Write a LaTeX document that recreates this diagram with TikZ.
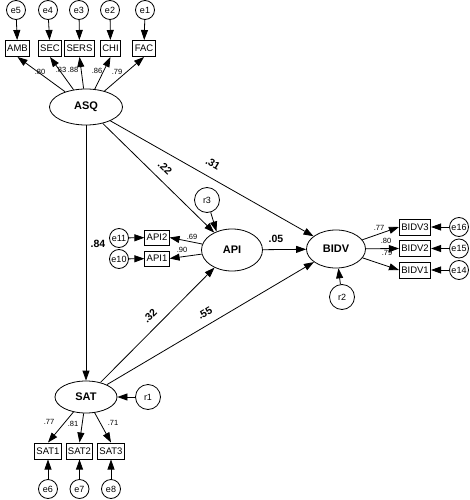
\documentclass[tikz,border=0pt]{standalone}
\usepackage{fontspec}
\setmainfont{Liberation Sans}
\usetikzlibrary{arrows.meta,shapes.geometric,positioning}

\tikzset{
  latent/.style={draw, ellipse, inner sep=0pt, line width=0.8pt, font=\fontsize{11}{12}\selectfont\bfseries},
  obs/.style={draw, line width=1pt, inner xsep=1.8pt, minimum height=16pt, font=\fontsize{9.5}{10}\selectfont},
  err/.style={draw, circle, line width=0.8pt, minimum size=19pt, inner sep=0pt, font=\fontsize{9}{10}\selectfont},
  res/.style={draw, circle, line width=0.8pt, minimum size=25pt, inner sep=0pt, font=\fontsize{9}{10}\selectfont},
  load/.style={inner sep=0pt, font=\fontsize{7.5}{8}\selectfont},
  coef/.style={inner sep=1pt, font=\fontsize{10.5}{12}\selectfont\bfseries},
  arr/.style={-{Triangle[length=10pt,width=7pt]}, line width=0.8pt}
}

\begin{document}
\begin{tikzpicture}[x=1pt,y=-1pt]
\useasboundingbox (0,0) rectangle (469,500);

\node[latent, minimum width=73pt, minimum height=36pt] (asq) at (86,107) {ASQ};
\node[latent, minimum width=62pt, minimum height=32pt] (sat) at (86,397) {SAT};
\node[latent, minimum width=61pt, minimum height=42pt] (api) at (232,250) {API};
\node[latent, minimum width=59pt, minimum height=38pt] (bidv) at (336,249) {BIDV};

\node[obs] (amb) at (17.5,48.5) {AMB};
\node[obs] (sec) at (50,48.5) {SEC};
\node[obs] (sers) at (79.5,48.5) {SERS};
\node[obs] (chi) at (110.5,48.5) {CHI};
\node[obs] (fac) at (144,48.5) {FAC};

\node[err] (e5) at (16,10) {e5};
\node[err] (e4) at (48,10) {e4};
\node[err] (e3) at (79,10) {e3};
\node[err] (e2) at (110,10) {e2};
\node[err] (e1) at (145,10) {e1};

\node[obs] (sat1) at (48,451) {SAT1};
\node[obs] (sat2) at (79.5,451) {SAT2};
\node[obs] (sat3) at (111,451) {SAT3};

\node[err] (e6) at (48,489) {e6};
\node[err] (e7) at (79.5,489) {e7};
\node[err] (e8) at (111,489) {e8};

\node[obs, minimum height=15pt] (api2) at (157,237.5) {API2};
\node[obs, minimum height=15pt] (api1) at (157,258.5) {API1};
\node[err] (e11) at (119,238) {e11};
\node[err] (e10) at (119,259) {e10};

\node[obs] (bidv3) at (415,227) {BIDV3};
\node[obs] (bidv2) at (415,248.5) {BIDV2};
\node[obs] (bidv1) at (415,270) {BIDV1};
\node[err] (e16) at (459,227) {e16};
\node[err] (e15) at (459,248.5) {e15};
\node[err] (e14) at (459,270) {e14};

\node[res] (r1) at (148,397) {r1};
\node[res] (r2) at (342,297) {r2};
\node[res] (r3) at (207,200) {r3};

\foreach \e/\b in {e5/amb,e4/sec,e3/sers,e2/chi,e1/fac}
  \draw[arr] (\e) -- (\b);
\foreach \b in {amb,sec,sers,chi,fac}
  \draw[arr] (asq) -- (\b.south);
\foreach \e/\b in {e6/sat1,e7/sat2,e8/sat3}
  \draw[arr] (\e) -- (\b);
\foreach \b in {sat1,sat2,sat3}
  \draw[arr] (sat) -- (\b.north);
\draw[arr] (e11) -- (api2);
\draw[arr] (e10) -- (api1);
\draw[arr] (api) -- (api2.east);
\draw[arr] (api) -- (api1.east);
\foreach \e/\b in {e16/bidv3,e15/bidv2,e14/bidv1}
  \draw[arr] (\e) -- (\b);
\foreach \b in {bidv3,bidv2,bidv1}
  \draw[arr] (bidv) -- (\b.west);

\draw[arr] (asq) -- (sat);
\draw[arr] (asq) -- (api);
\draw[arr] (asq) -- (bidv);
\draw[arr] (sat) -- (api);
\draw[arr] (sat) -- (bidv);
\draw[arr] (api) -- (bidv);
\draw[arr] (r1) -- (sat);
\draw[arr] (r2) -- (bidv);
\draw[arr] (r3) -- (api.130);

\node[coef] (c84) at (98,244) {.84};
\node[coef, rotate=-44] (c22) at (165,168) {.22};
\node[coef, rotate=-30] (c31) at (213,164) {.31};
\node[coef] (c05) at (276,239) {.05};
\node[coef, rotate=45] (c32) at (150,316) {.32};
\node[coef, rotate=30] (c55) at (205,313) {.55};

\node[load] at (40,72) {.80};
\node[load] at (61,70) {.83};
\node[load] at (73,70) {.88};
\node[load] at (97,71) {.86};
\node[load] at (117,72) {.79};
\node[load] at (49,422) {.77};
\node[load] at (73,424) {.81};
\node[load] at (113,423) {.71};
\node[load] at (192,237) {.69};
\node[load] at (182,250) {.90};
\node[load] at (379,228) {.77};
\node[load] at (386,241) {.80};
\node[load] at (387,253) {.79};
\end{tikzpicture}
\end{document}
